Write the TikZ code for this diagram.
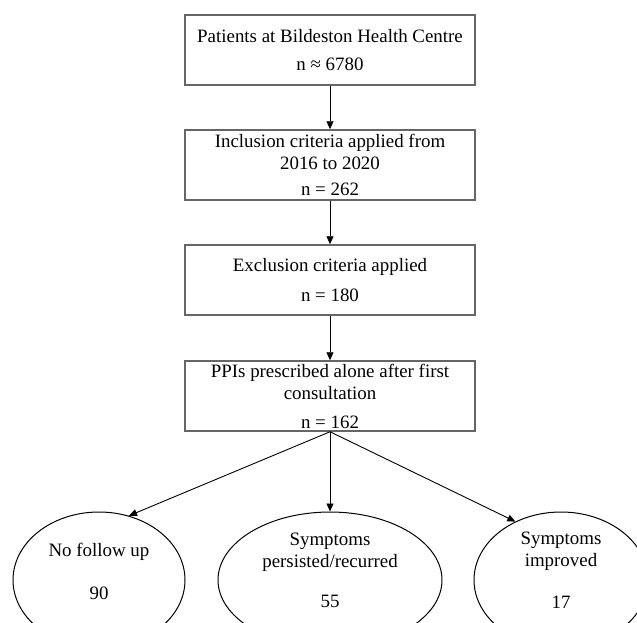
\documentclass[tikz,border=0pt]{standalone}
\usepackage{fontspec}
\setmainfont{Liberation Serif}
\usetikzlibrary{arrows.meta,shapes.geometric}
\newcommand{\diafont}{\fontsize{18.9}{22}\selectfont}
\begin{document}
\begin{tikzpicture}[x=1pt,y=-1pt,
  stepbox/.style={draw=black!60, line width=1.5pt, minimum width=290pt, minimum height=70pt,
    align=center, font=\diafont, text=black, inner sep=0pt},
  oval/.style={draw=black, ellipse, line width=1pt, inner sep=0pt},
  lbl/.style={align=center, font=\diafont, text=black, inner sep=0pt},
  arr/.style={-{Triangle[length=8pt,width=7pt]}, line width=0.9pt, draw=black}]
\useasboundingbox (0,0) rectangle (637,622);
\clip (0,0) rectangle (637,622);
\node[stepbox] (b1) at (330,50) {Patients at Bildeston Health Centre\\[6pt]n ≈ 6780};
\node[stepbox] (b2) at (330,165) {Inclusion criteria applied from\\2016 to 2020\\[4pt]n = 262};
\node[stepbox] (b3) at (330,280) {Exclusion criteria applied\\[8pt]n = 180};
\node[stepbox] (b4) at (330,396) {PPIs prescribed alone after first\\consultation\\[7pt]n = 162};
\node[oval, minimum width=172pt, minimum height=136pt] (l) at (99,580) {};
\node[oval, minimum width=224pt, minimum height=136pt] (m) at (330,580) {};
\node[oval, minimum width=174pt, minimum height=136pt] (r) at (561,580) {};
\node[lbl] (lt) at (99,571) {No follow up\\[21pt]90};
\node[lbl] (mt) at (330,570) {Symptoms\\persisted/recurred\\[18pt]55};
\node[lbl] (rt) at (561,570) {Symptoms\\improved\\[20pt]17};
\draw[arr] (b1) -- (b2);
\draw[arr] (b2) -- (b3);
\draw[arr] (b3) -- (b4);
\draw[arr] (b4.south) -- (l.65);
\draw[arr] (b4.south) -- (m.north);
\draw[arr] (b4.south) -- (r.128);
\end{tikzpicture}
\end{document}
